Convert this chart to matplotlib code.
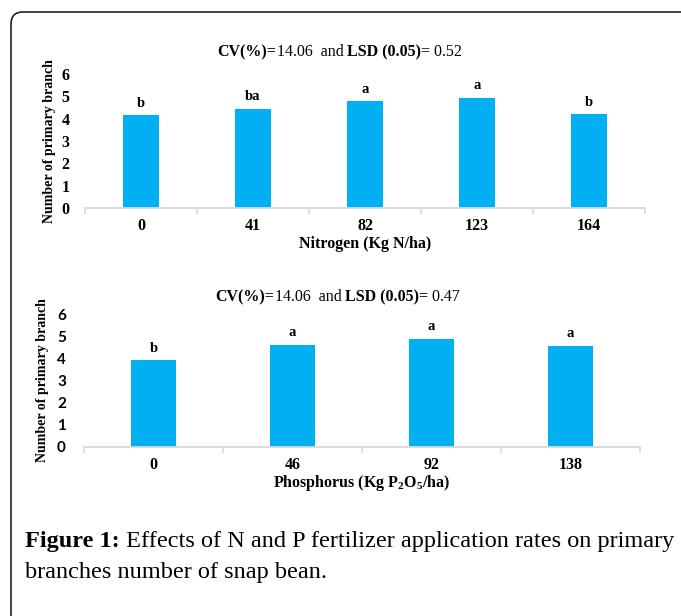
import numpy as np
import matplotlib.pyplot as plt
import matplotlib.patches as mpatches

plt.rcParams['mathtext.fontset'] = 'custom'
plt.rcParams['mathtext.rm'] = 'Liberation Serif'
plt.rcParams['mathtext.bf'] = 'Liberation Serif:bold'
plt.rcParams['mathtext.it'] = 'Liberation Serif:italic'

# Data
n_rates = ['0', '41', '82', '123', '164']
n_branch = [4.15, 4.45, 4.78, 4.93, 4.2]
n_letters = ['b', 'ba', 'a', 'a', 'b']

p_rates = ['0', '46', '92', '138']
p_branch = [3.92, 4.6, 4.89, 4.57]
p_letters = ['b', 'a', 'a', 'a']

W, H = 681, 616
BAR = '#00B0F0'
AXC = '#D9D9D9'
SERIF = 'Liberation Serif'

fig = plt.figure(figsize=(W / 100, H / 100), dpi=100)
fig.patch.set_facecolor('white')
renderer = fig.canvas.get_renderer()


def pieces(parts, x, y, size, center=True):
    # draw runs of text (text, weight) one after another on a line
    texts = []
    for s, w in parts:
        t = fig.text(0, 0, s, fontsize=size, fontweight=w, family=SERIF,
                     ha='left', va='baseline', transform=None)
        texts.append(t)
    ext = [t.get_window_extent(renderer).width for t in texts]
    total = sum(ext)
    x0 = x - total / 2 if center else x
    cx = 0
    for t, wd in zip(texts, ext):
        t.set_position((x0 + cx, H - y))
        cx += wd


def bar_panel(rect, cats, vals, letters, ylab, xlab, sans_y=False, ypad=12,
              ylpad=8, xlpad=2):
    ax = fig.add_axes(rect)
    x = np.arange(len(cats))
    ax.bar(x, vals, width=0.32, color=BAR, zorder=2)
    for xi, v, l in zip(x, vals, letters):
        ax.annotate(l, (xi, v), xytext=(0, 4), textcoords='offset points',
                    ha='center', va='bottom', fontsize=10.5,
                    fontweight='bold', family=SERIF)
    ax.set_xlim(-0.5, len(cats) - 0.5)
    ax.set_ylim(0, 6)
    ax.set_yticks(range(7))
    ax.set_xticks(x)
    ax.set_xticklabels(cats, fontsize=11.5, fontweight='bold', family=SERIF)
    if sans_y:
        ax.set_yticklabels(range(7), fontsize=11, fontweight='bold', family='Lato')
    else:
        ax.set_yticklabels(range(7), fontsize=11.5, fontweight='bold', family=SERIF)
    ax.set_xticks(np.arange(-0.5, len(cats)), minor=True)
    ax.tick_params(axis='x', which='major', length=0, pad=7)
    ax.tick_params(axis='x', which='minor', length=4, color=AXC, width=1.2)
    ax.tick_params(axis='y', length=0, pad=ypad)
    for s in ['top', 'right', 'left']:
        ax.spines[s].set_visible(False)
    ax.spines['bottom'].set_color(AXC)
    ax.spines['bottom'].set_linewidth(1.3)
    ax.set_ylabel(ylab, fontsize=10, fontweight='bold', family=SERIF, labelpad=ylpad)
    ax.set_xlabel(xlab, fontsize=11.5, fontweight='bold', family=SERIF, labelpad=xlpad)
    return ax


bar_panel([85 / W, 1 - 208 / H, 560 / W, (208 - 74) / H], n_rates, n_branch,
          n_letters, 'Number of primary branch', 'Nitrogen (Kg N/ha)',
          ypad=11, ylpad=4)
bar_panel([84 / W, 1 - 447 / H, 556 / W, (447 - 314) / H], p_rates, p_branch,
          p_letters, 'Number of primary branch',
          r'Phosphorus (Kg $\mathbf{P_2O_5}$/ha)', sans_y=True, ypad=13,
          ylpad=6, xlpad=0)

pieces([('CV(%)=', 'bold'), ('14.06  and ', 'normal'),
        ('LSD (0.05)', 'bold'), ('= 0.52', 'normal')], 340, 56, 11.5)
pieces([('CV(%)=', 'bold'), ('14.06  and ', 'normal'),
        ('LSD (0.05)=', 'bold'), (' 0.47', 'normal')], 338, 301, 11.5)

pieces([('Figure 1:', 'bold'),
        (' Effects of N and P fertilizer application rates on primary', 'normal')],
       25, 547, 17.5, center=False)
pieces([('branches number of snap bean.', 'normal')], 25, 578, 17.5, center=False)

# rounded frame running off the right and bottom edge
frame = mpatches.FancyBboxPatch((11, -40), 720, H - 12 + 40,
                                boxstyle='round,pad=0,rounding_size=12',
                                transform=None, fill=False,
                                edgecolor='#222222', linewidth=1.2)
fig.patches.append(frame)

fig.savefig('out.png', dpi=100, facecolor='white')
